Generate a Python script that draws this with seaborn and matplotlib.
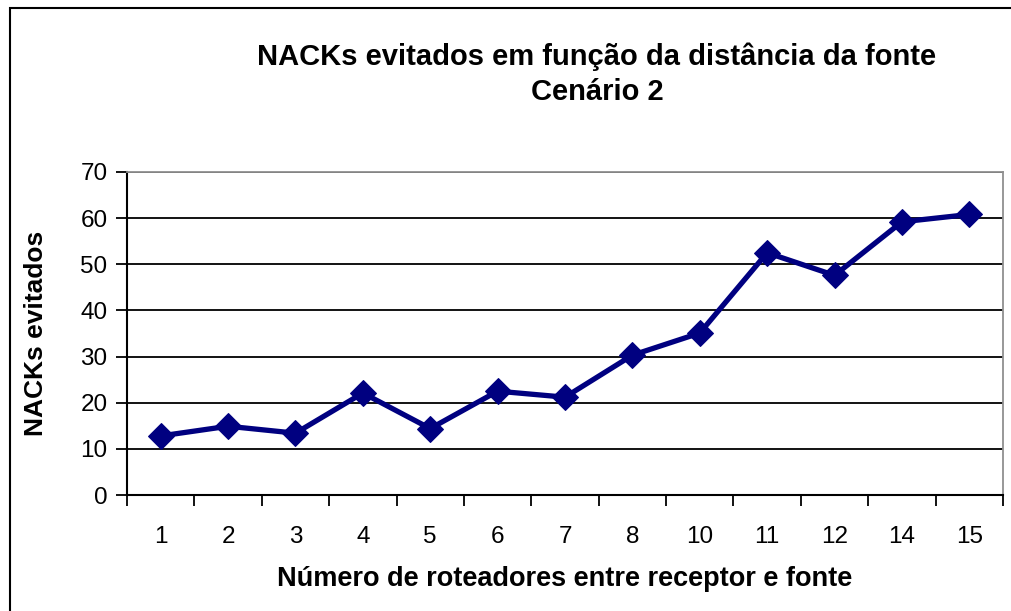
import matplotlib
matplotlib.use("Agg")
import matplotlib.pyplot as plt
import matplotlib.patches as patches
import seaborn as sns
import pandas as pd

roteadores = ["1", "2", "3", "4", "5", "6", "7", "8", "10", "11", "12", "14", "15"]
nacks = [12.8, 14.9, 13.4, 22.1, 14.4, 22.5, 21.2, 30.3, 35.1, 52.5, 47.6, 59.2, 60.8]
y_ticks = [0, 10, 20, 30, 40, 50, 60, 70]

df = pd.DataFrame({"roteadores": roteadores, "nacks": nacks})

sns.set_theme(style="white")
plt.rcParams["font.family"] = ["Liberation Sans", "DejaVu Sans"]
plt.rcParams["text.color"] = "black"
plt.rcParams["axes.labelcolor"] = "black"

fig = plt.figure(figsize=(10.12, 6.11), dpi=100)
ax = fig.add_axes([127 / 1012, 1 - 495 / 611, 876 / 1012, 323 / 611])

sns.lineplot(data=df, x="roteadores", y="nacks", ax=ax, color="#000080",
             linewidth=3.8, marker="D", markersize=13, markeredgecolor="#000080",
             sort=False)

ax.set_ylim(0, 70)
ax.set_yticks(y_ticks)
ax.set_xlim(-0.5, len(roteadores) - 0.5)
ax.set_xticks(range(len(roteadores)))
ax.set_xticklabels(roteadores)
ax.set_xticks([i - 0.5 for i in range(len(roteadores) + 1)], minor=True)
ax.tick_params(axis="x", which="major", length=0, labelsize=17.5, pad=22, colors="black")
ax.tick_params(axis="x", which="minor", length=8, width=1.3, direction="out", color="black", bottom=True)
ax.tick_params(axis="y", length=8, width=1.3, direction="out", labelsize=17.5, colors="black", left=True, pad=6)

ax.grid(axis="y", color="black", linewidth=1.3)
ax.set_axisbelow(True)

for side in ["left", "bottom"]:
    ax.spines[side].set_color("black")
    ax.spines[side].set_linewidth(1.5)
for side in ["top", "right"]:
    ax.spines[side].set_color("#909090")
    ax.spines[side].set_linewidth(1.3)

ax.set_xlabel("Número de roteadores entre receptor e fonte", fontsize=19.5,
              fontweight="bold", labelpad=13)
ax.set_ylabel("NACKs evitados", fontsize=19, fontweight="bold", labelpad=23)

fig.text(597 / 1012, 1 - 74 / 611, "NACKs evitados em função da distância da fonte\nCenário 2",
         ha="center", va="center", fontsize=21, fontweight="bold", linespacing=1.3)

fig.patches.append(patches.Rectangle((10 / 1012, -0.1), 1.2, 1 - 8 / 611 + 0.1,
                                     transform=fig.transFigure, fill=False,
                                     edgecolor="black", linewidth=1.5))

fig.savefig("out.png", dpi=100, facecolor="white")
